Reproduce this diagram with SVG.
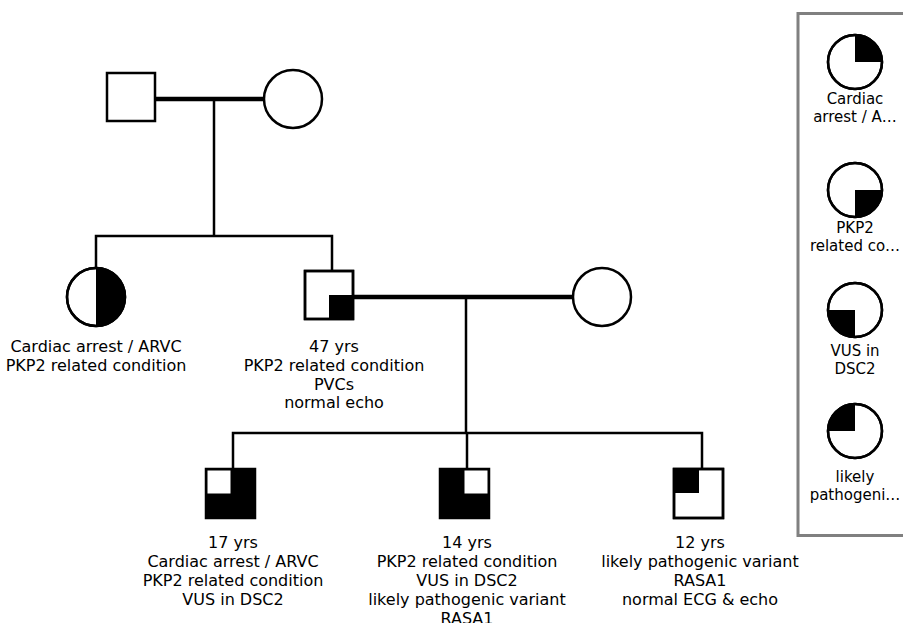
<svg xmlns="http://www.w3.org/2000/svg" width="903" height="623" viewBox="0 0 903 623">
<style>
.sym{fill:#fff;stroke:#000;stroke-width:2.5}
.q{fill:#000;stroke:none}
.ln{fill:none;stroke:#000;stroke-width:2.5}
.mar{fill:none;stroke:#000;stroke-width:4.5}
.lbl{font-family:"DejaVu Sans",Verdana,sans-serif;font-size:16px;fill:#000;text-anchor:middle}
.leg{font-family:"DejaVu Sans",Verdana,sans-serif;font-size:15px;fill:#000;text-anchor:middle}
</style>
<rect width="903" height="623" fill="#fff"/>
<g id="connectors">
<line class="mar" x1="155" y1="99" x2="264" y2="99"/>
<line class="ln" x1="214" y1="99" x2="214" y2="236"/>
<polyline class="ln" points="96,268 96,236 332,236 332,271"/>
<line class="mar" x1="353" y1="297" x2="573" y2="297"/>
<line class="ln" x1="466" y1="297" x2="466" y2="433"/>
<polyline class="ln" points="233,468 233,433 702,433 702,469"/>
<line class="ln" x1="467" y1="433" x2="467" y2="468"/>
</g>
<g id="grandfather">
<rect class="sym" x="107" y="73" width="48" height="48"/>
</g>
<g id="grandmother">
<circle class="sym" cx="293" cy="99" r="29"/>
</g>
<g id="aunt">
<circle class="sym" cx="96" cy="297" r="29"/>
<path class="q" d="M96,268 A29,29 0 0 1 96,326 Z"/>
<circle cx="96" cy="297" r="29" fill="none" stroke="#000" stroke-width="2.5"/>
<text class="lbl" x="96" y="352">Cardiac arrest / ARVC</text>
<text class="lbl" x="96" y="371">PKP2 related condition</text>
</g>
<g id="father">
<rect class="sym" x="305" y="271" width="48" height="48"/>
<rect class="q" x="329" y="295" width="24" height="24"/>
<rect x="305" y="271" width="48" height="48" fill="none" stroke="#000" stroke-width="2.5"/>
<text class="lbl" x="334" y="352">47 yrs</text>
<text class="lbl" x="334" y="371">PKP2 related condition</text>
<text class="lbl" x="334" y="389.5">PVCs</text>
<text class="lbl" x="334" y="408">normal echo</text>
</g>
<g id="mother">
<circle class="sym" cx="602" cy="297" r="29"/>
</g>
<g id="child1">
<rect x="206" y="469" width="49" height="49" fill="#000" stroke="#000" stroke-width="2.5"/>
<rect x="207.5" y="470.5" width="23" height="23" fill="#fff"/>
<text class="lbl" x="233" y="548">17 yrs</text>
<text class="lbl" x="233" y="567">Cardiac arrest / ARVC</text>
<text class="lbl" x="233" y="586">PKP2 related condition</text>
<text class="lbl" x="233" y="605">VUS in DSC2</text>
</g>
<g id="child2">
<rect x="440" y="469" width="49" height="49" fill="#000" stroke="#000" stroke-width="2.5"/>
<rect x="464.5" y="470.5" width="23" height="23" fill="#fff"/>
<text class="lbl" x="467" y="548">14 yrs</text>
<text class="lbl" x="467" y="567">PKP2 related condition</text>
<text class="lbl" x="467" y="586">VUS in DSC2</text>
<text class="lbl" x="467" y="605">likely pathogenic variant</text>
<text class="lbl" x="467" y="624">RASA1</text>
</g>
<g id="child3">
<rect class="sym" x="674" y="469" width="49" height="49"/>
<rect class="q" x="674" y="469" width="25" height="24"/>
<rect x="674" y="469" width="49" height="49" fill="none" stroke="#000" stroke-width="2.5"/>
<text class="lbl" x="700" y="548">12 yrs</text>
<text class="lbl" x="700" y="567">likely pathogenic variant</text>
<text class="lbl" x="700" y="586">RASA1</text>
<text class="lbl" x="700" y="605">normal ECG &amp; echo</text>
</g>
<g id="legend">
<rect x="798" y="13.5" width="130" height="522" fill="#fff" stroke="#808080" stroke-width="3"/>
<g id="legend-cardiac">
<circle class="sym" cx="855" cy="62" r="27"/>
<path class="q" d="M855,62 L855,35 A27,27 0 0 1 882,62 Z"/>
<circle cx="855" cy="62" r="27" fill="none" stroke="#000" stroke-width="2.5"/>
<text class="leg" x="855" y="104">Cardiac</text>
<text class="leg" x="855" y="122">arrest / A…</text>
</g>
<g id="legend-pkp2">
<circle class="sym" cx="855" cy="190" r="27"/>
<path class="q" d="M855,190 L882,190 A27,27 0 0 1 855,217 Z"/>
<circle cx="855" cy="190" r="27" fill="none" stroke="#000" stroke-width="2.5"/>
<text class="leg" x="855" y="233">PKP2</text>
<text class="leg" x="855" y="251">related co…</text>
</g>
<g id="legend-vus">
<circle class="sym" cx="855" cy="310" r="27"/>
<path class="q" d="M855,310 L855,337 A27,27 0 0 1 828,310 Z"/>
<circle cx="855" cy="310" r="27" fill="none" stroke="#000" stroke-width="2.5"/>
<text class="leg" x="855" y="356">VUS in</text>
<text class="leg" x="855" y="374">DSC2</text>
</g>
<g id="legend-lp">
<circle class="sym" cx="855" cy="431" r="27"/>
<path class="q" d="M855,431 L828,431 A27,27 0 0 1 855,404 Z"/>
<circle cx="855" cy="431" r="27" fill="none" stroke="#000" stroke-width="2.5"/>
<text class="leg" x="855" y="482">likely</text>
<text class="leg" x="855" y="500">pathogeni…</text>
</g>
</g>
</svg>
